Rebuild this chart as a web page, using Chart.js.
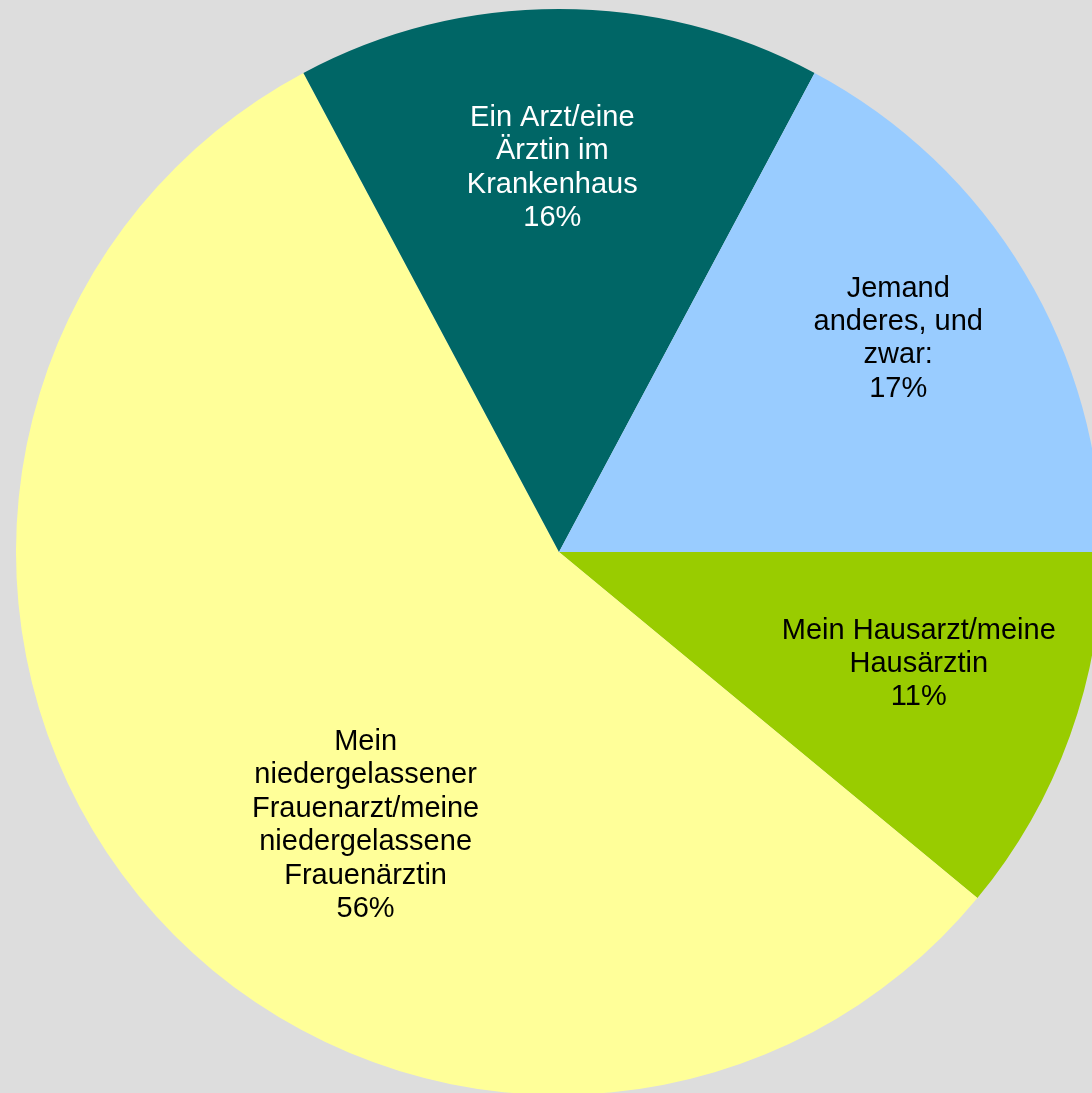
<!DOCTYPE html>
<html>
<head>
<meta charset="utf-8">
<script src="https://cdn.jsdelivr.net/npm/chart.js@4/dist/chart.umd.min.js"></script>
<style>
  html, body { margin: 0; padding: 0; background: #dddddd; overflow: hidden; }
  #wrap { width: 1118px; height: 1104px; }
</style>
</head>
<body>
<div id="wrap"><canvas id="pie" width="1118" height="1104"></canvas></div>
<script>
// slices, clockwise from 3 o'clock
const categories = [
  ["Mein Hausarzt/meine", "Hausärztin"],
  ["Mein", "niedergelassener", "Frauenarzt/meine", "niedergelassene", "Frauenärztin"],
  ["Ein Arzt/eine", "Ärztin im", "Krankenhaus"],
  ["Jemand", "anderes, und", "zwar:"]
];
const values = [11.0, 56.2, 15.6, 17.2];
const sliceColors = ["#99cc00", "#ffff99", "#006666", "#99ccff"];
const textColors = ["#000000", "#000000", "#ffffff", "#000000"];

// label placement: fraction of radius and angle shift (degrees) from slice middle
const labelRadius = [0.694, 0.617, 0.707, 0.738];
const labelShift = [-2.5, -15.5, -1, -1.2];

const sliceLabels = {
  id: "sliceLabels",
  afterDatasetsDraw(chart) {
    const ctx = chart.ctx;
    const meta = chart.getDatasetMeta(0);
    const total = values.reduce((a, b) => a + b, 0);
    ctx.save();
    ctx.font = "29px 'Liberation Sans', Arial, sans-serif";
    ctx.textAlign = "center";
    ctx.textBaseline = "middle";
    meta.data.forEach((arc, i) => {
      const p = arc.getProps(["x", "y", "startAngle", "endAngle", "outerRadius"], true);
      const mid = (p.startAngle + p.endAngle) / 2 + labelShift[i] * Math.PI / 180;
      const r = p.outerRadius * labelRadius[i];
      const cx = p.x + Math.cos(mid) * r;
      const cy = p.y + Math.sin(mid) * r;
      const lines = categories[i].concat([Math.round(values[i] / total * 100) + "%"]);
      const lh = 33.4;
      const top = cy - (lines.length - 1) * lh / 2;
      ctx.fillStyle = textColors[i];
      lines.forEach((line, j) => ctx.fillText(line, cx, top + j * lh));
    });
    ctx.restore();
  }
};

new Chart(document.getElementById("pie"), {
  type: "pie",
  data: {
    labels: categories,
    datasets: [{
      data: values,
      backgroundColor: sliceColors,
      borderWidth: 0
    }]
  },
  options: {
    responsive: false,
    animation: false,
    rotation: 90,
    layout: { padding: 9 },
    plugins: {
      legend: { display: false },
      tooltip: { enabled: false }
    }
  },
  plugins: [sliceLabels]
});
</script>
</body>
</html>
